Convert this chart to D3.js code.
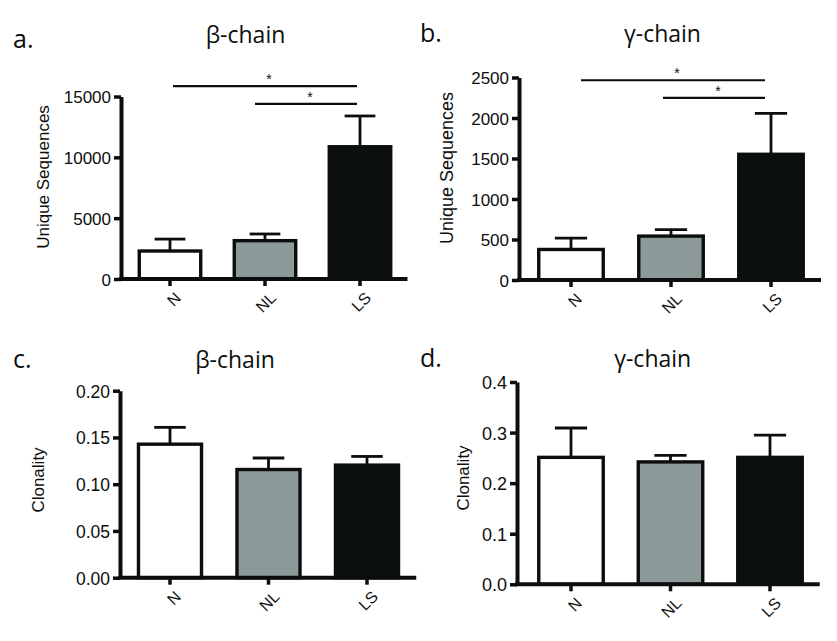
<!DOCTYPE html>
<html>
<head>
<meta charset="utf-8">
<script src="https://cdn.jsdelivr.net/npm/d3@7"></script>
<style>
  html, body { margin: 0; padding: 0; background: #ffffff; }
  svg { display: block; }
</style>
</head>
<body>
<svg id="chart" width="837" height="641"></svg>
<script>
// ---------------- DATA ----------------
const categories = ["N", "NL", "LS"];

const uniqueBetaMean = [2300, 3150, 10870];
const uniqueBetaSem  = [980, 550, 2530];
const uniqueBetaTicks = [0, 5000, 10000, 15000];

const uniqueGammaMean = [377, 542, 1552];
const uniqueGammaSem  = [141, 79, 506];
const uniqueGammaTicks = [0, 500, 1000, 1500, 2000, 2500];

const clonBetaMean = [0.1428, 0.1157, 0.1204];
const clonBetaSem  = [0.0180, 0.0123, 0.0093];
const clonBetaTicks = [0.00, 0.05, 0.10, 0.15, 0.20];

const clonGammaMean = [0.251, 0.242, 0.251];
const clonGammaSem  = [0.058, 0.013, 0.044];
const clonGammaTicks = [0.0, 0.1, 0.2, 0.3, 0.4];

// significance brackets (height in data units)
const sigBeta  = [{ from: "N", to: "LS", level: 15850, label: "*" },
                  { from: "NL", to: "LS", level: 14400, label: "*" }];
const sigGamma = [{ from: "N", to: "LS", level: 2466, label: "*" },
                  { from: "NL", to: "LS", level: 2248, label: "*" }];

const panelLetters = ["a.", "b.", "c.", "d."];
const panelTitles  = ["β-chain", "γ-chain", "β-chain", "γ-chain"];
const yLabels      = ["Unique Sequences", "Unique Sequences", "Clonality", "Clonality"];

// ---------------- STYLE / LAYOUT ----------------
const fills = ["#ffffff", "#8b9a98", "#0b0f0d"];
const ink = "#0c0e0d";
const tickFont = "'Liberation Sans', Arial, sans-serif";
const titleFont = "'Open Sans', 'Noto Sans', sans-serif";

const panels = [
  { mean: uniqueBetaMean, sem: uniqueBetaSem, ticks: uniqueBetaTicks, fmt: d3.format("d"), sig: sigBeta,
    axisX: 121, bandRange: [122.5, 407.5], pad: 0.353, y0: 279, yTop: 96.5,
    letter: [13, 48], title: [245.5, 43], ylab: [49, 177], ylabSize: 17, tickSize: 17,
    sigOff: [[3, -3], [-10, -3]] },
  { mean: uniqueGammaMean, sem: uniqueGammaSem, ticks: uniqueGammaTicks, fmt: d3.format("d"), sig: sigGamma,
    axisX: 519, bandRange: [521, 821], pad: 0.355, y0: 280, yTop: 77.5,
    letter: [420, 42], title: [662.5, 42], ylab: [453, 168], ylabSize: 18, tickSize: 17,
    sigOff: [[10, -6], [-8, -6]] },
  { mean: clonBetaMean, sem: clonBetaSem, ticks: clonBetaTicks, fmt: d3.format(".2f"), sig: [],
    axisX: 120, bandRange: [120.75, 416.25], pad: 0.36, y0: 577.7, yTop: 390.7,
    letter: [13, 368], title: [235, 368], ylab: [44, 480], ylabSize: 17, tickSize: 17.5,
    sigOff: [] },
  { mean: clonGammaMean, sem: clonGammaSem, ticks: clonGammaTicks, fmt: d3.format(".1f"), sig: [],
    axisX: 517, bandRange: [521.25, 819.75], pad: 0.352, y0: 584.3, yTop: 382,
    letter: [420, 367], title: [652.7, 367], ylab: [469, 478], ylabSize: 17, tickSize: 18,
    sigOff: [] }
];

const svg = d3.select("#chart");

panels.forEach((p, pi) => {
  const g = svg.append("g");
  const ticks = p.ticks;
  const x = d3.scaleBand().domain(categories).range(p.bandRange)
              .paddingInner(p.pad).paddingOuter(p.pad / 2);
  const y = d3.scaleLinear().domain([0, ticks[ticks.length - 1]]).range([p.y0, p.yTop]);

  // bars
  g.selectAll("rect.bar").data(categories).join("rect")
    .attr("class", "bar")
    .attr("x", d => x(d))
    .attr("width", x.bandwidth())
    .attr("y", (d, i) => y(p.mean[i]))
    .attr("height", (d, i) => y(0) - y(p.mean[i]))
    .attr("fill", (d, i) => fills[i])
    .attr("stroke", ink)
    .attr("stroke-width", 3.4);

  // error bars (upper)
  const capW = x.bandwidth() * 0.5;
  const eg = g.selectAll("g.err").data(categories).join("g").attr("class", "err")
    .attr("stroke", ink).attr("stroke-width", 2.8);
  eg.append("line")
    .attr("x1", d => x(d) + x.bandwidth() / 2)
    .attr("x2", d => x(d) + x.bandwidth() / 2)
    .attr("y1", (d, i) => y(p.mean[i]))
    .attr("y2", (d, i) => y(p.mean[i] + p.sem[i]));
  eg.append("line")
    .attr("x1", d => x(d) + x.bandwidth() / 2 - capW / 2)
    .attr("x2", d => x(d) + x.bandwidth() / 2 + capW / 2)
    .attr("y1", (d, i) => y(p.mean[i] + p.sem[i]))
    .attr("y2", (d, i) => y(p.mean[i] + p.sem[i]));

  // y axis
  const yAxis = d3.axisLeft(y).tickValues(ticks).tickFormat(p.fmt).tickSize(7).tickSizeOuter(0).tickPadding(3);
  const ya = g.append("g").attr("transform", `translate(${p.axisX},0)`).call(yAxis);
  ya.select(".domain").attr("stroke", ink).attr("stroke-width", 4);
  ya.selectAll(".tick line").attr("stroke", ink).attr("stroke-width", 3.5);
  ya.selectAll(".tick text").attr("fill", ink).style("font-family", tickFont)
    .style("font-size", p.tickSize + "px").attr("dy", "0.36em");

  // x axis
  const xAxis = d3.axisBottom(x).tickSize(7).tickSizeOuter(0).tickFormat(d => d);
  const xa = g.append("g").attr("transform", `translate(0,${p.y0})`).call(xAxis);
  xa.select(".domain").remove();
  xa.append("line").attr("x1", p.axisX - 2).attr("x2", p.bandRange[1])
    .attr("y1", 0).attr("y2", 0).attr("stroke", ink).attr("stroke-width", 4);
  xa.selectAll(".tick line").attr("stroke", ink).attr("stroke-width", 3.5);
  xa.selectAll(".tick text")
    .attr("fill", ink).style("font-family", tickFont).style("font-size", "16px")
    .attr("text-anchor", "end")
    .attr("x", 0).attr("y", 0).attr("dy", 0)
    .attr("transform", "translate(12,20) rotate(-45)");

  // significance brackets
  p.sig.forEach((s, si) => {
    const xa1 = x(s.from) + x.bandwidth() / 2 + p.sigOff[si][0];
    const xa2 = x(s.to) + x.bandwidth() / 2 + p.sigOff[si][1];
    const ly = y(s.level);
    g.append("line").attr("x1", xa1).attr("x2", xa2).attr("y1", ly).attr("y2", ly)
      .attr("stroke", ink).attr("stroke-width", 2.2);
    g.append("text").attr("x", (xa1 + xa2) / 2 + 4).attr("y", ly - 2)
      .attr("text-anchor", "middle").style("font-family", tickFont).style("font-size", "14px")
      .attr("fill", ink).text(s.label);
  });

  // titles
  g.append("text").attr("x", p.letter[0]).attr("y", p.letter[1])
    .style("font-family", titleFont).style("font-size", "25px").attr("fill", ink)
    .text(panelLetters[pi]);
  g.append("text").attr("x", p.title[0]).attr("y", p.title[1]).attr("text-anchor", "middle")
    .style("font-family", titleFont).style("font-size", "23px").attr("fill", ink)
    .text(panelTitles[pi]);

  // y label
  g.append("text")
    .attr("transform", `translate(${p.ylab[0]},${p.ylab[1]}) rotate(-90)`)
    .attr("text-anchor", "middle")
    .style("font-family", tickFont).style("font-size", p.ylabSize + "px").attr("fill", ink)
    .text(yLabels[pi]);
});
</script>
</body>
</html>
